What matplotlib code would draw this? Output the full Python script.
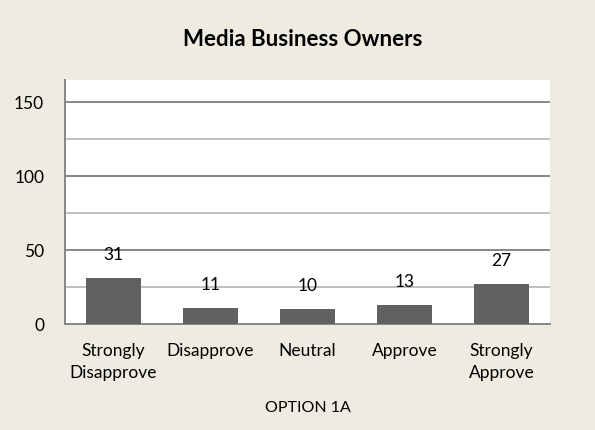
import matplotlib
matplotlib.use("Agg")
import matplotlib.pyplot as plt

categories = ["Strongly\nDisapprove", "Disapprove", "Neutral", "Approve", "Strongly\nApprove"]
values = [31, 11, 10, 13, 27]
yticks = [0, 50, 100, 150]
minor_ticks = [25, 75, 125]
title = "Media Business Owners"
xlabel = "OPTION 1A"

plt.rcParams['font.family'] = ['Lato', 'DejaVu Sans']

W, H = 595, 431
fig = plt.figure(figsize=(W / 100, H / 100), dpi=100)
fig.patch.set_facecolor('#EEECE1')
ax = fig.add_axes([65 / W, 1 - 325 / H, (550 - 65) / W, (325 - 81) / H])
ax.set_facecolor('white')

x = list(range(len(categories)))
ax.bar(x, values, width=0.56, color='#616161', zorder=3)
ax.set_xlim(-0.5, len(categories) - 0.5)
ax.set_ylim(0, 164.6)

for m in minor_ticks:
    ax.axhline(m, color='#BFBFBF', lw=1.4, zorder=1)
for t in yticks[1:]:
    ax.axhline(t, color='#868686', lw=1.4, zorder=1)

for xi, v in zip(x, values):
    ax.annotate(str(v), (xi, v), xytext=(0, 17.3), textcoords='offset points',
                ha='center', va='center', fontsize=12.5, color='black', zorder=4)

ax.set_yticks(yticks)
ax.set_yticklabels([str(t) for t in yticks], fontsize=12.5)
ax.set_xticks(x)
ax.set_xticklabels(categories, fontsize=12.5, linespacing=1.45)
ax.tick_params(axis='y', length=0, pad=15)
ax.tick_params(axis='x', length=0, pad=13)

for s in ['top', 'right']:
    ax.spines[s].set_visible(False)
for s in ['left', 'bottom']:
    ax.spines[s].set_color('#868686')
    ax.spines[s].set_linewidth(1.4)

fig.text(0.5 * (65 + 550) / W, 1 - 408 / H, xlabel, ha='center', va='center', fontsize=11.5)
fig.text(303 / W, 1 - 39 / H, title, ha='center', va='center', fontsize=16, fontweight='bold')

fig.savefig('out.png', dpi=100, facecolor=fig.get_facecolor())
